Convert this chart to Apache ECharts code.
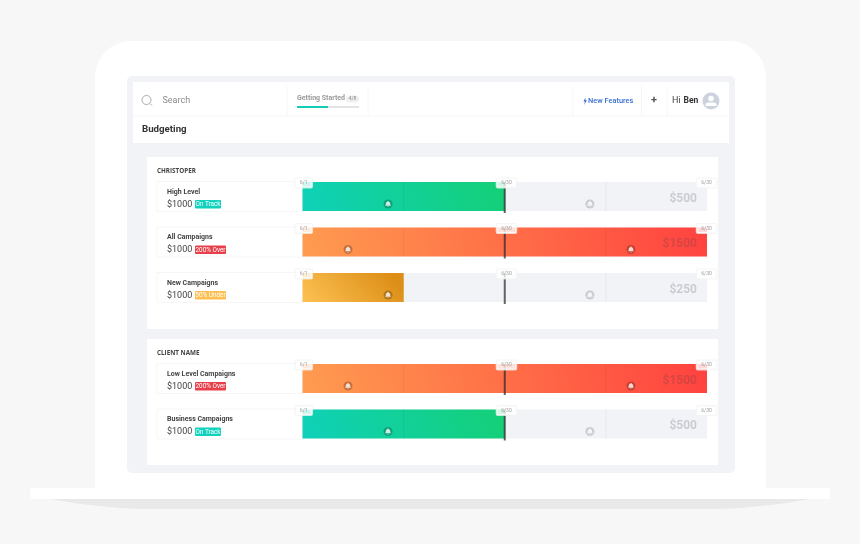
<!DOCTYPE html>
<html style="height: 100%">
<head>
<meta charset="utf-8">
<script src="https://cdn.jsdelivr.net/npm/echarts@6/dist/echarts.min.js"></script>
</head>
<body style="height: 100%; margin: 0; background: #f7f7f7">
<div id="container" style="width: 860px; height: 544px"></div>
<script>
// empty category keeps the gap between the two groups
var categories = ['High Level', 'All Campaigns', 'New Campaigns', '', 'Low Level Campaigns', 'Business Campaigns'];
var budgets = ['$1000', '$1000', '$1000', '', '$1000', '$1000'];
var statuses = ['On Track', '200% Over', '50% Under', '', '200% Over', 'On Track'];
var spent = [1000, 2000, 500, null, 2000, 1000];
var trackMax = [2000, 2000, 2000, null, 2000, 2000];
var targets = [1000, 1000, 1000, null, 1000, 1000];
var remaining = ['$500', '$1500', '$250', '', '$1500', '$500'];
var bellsFirst = [423, 225, 423, null, 225, 423];
var bellsSecond = [1421, 1624, 1421, null, 1624, 1421];
var dividers = [500, 1500];
var dateStart = '6/1';
var dateEnd = '6/30';
var groupNames = ['CHRISTOPER', 'CLIENT NAME'];

var FONT = 'Roboto, sans-serif';
var HEAD_FONT = '"Open Sans", sans-serif';
var gridLeft = 302.5, gridWidth = 404.5, gridTop = 173.75, rowStep = 45.5;

var statusColor = {
	'On Track': ['#10d2bd', ['#0fd1b9', '#15cf6f']],
	'200% Over': ['#e8404a', ['#ff9c50', '#ff3f3f']],
	'50% Under': ['#fdbf52', ['#fdc253', '#dc8e16']]
};

// amber bar is short so its gradient runs at a steeper angle
function gradient(stops, steep) {
	var g = steep ? [0, 1, 0.6, -1] : [0, 1, 1, -2];
	return new echarts.graphic.LinearGradient(g[0], g[1], g[2], g[3], [
		{ offset: 0, color: stops[0] },
		{ offset: 1, color: stops[1] }
	]);
}

function rect(x, y, w, h, fill, r, z) {
	return { type: 'rect', z: z || 0, shape: { x: x, y: y, width: w, height: h, r: r || 0 }, style: { fill: fill }, silent: true };
}
function txt(x, y, text, size, color, weight, align, font) {
	return {
		type: 'text', z: 10, x: x, y: y, silent: true,
		style: { text: text, font: (weight || 'normal') + ' ' + size + 'px ' + (font || FONT), fill: color, align: align || 'left', verticalAlign: 'middle' }
	};
}
function vline(x, y1, y2, color) {
	return { type: 'line', z: 3, shape: { x1: x, y1: y1, x2: x, y2: y2 }, style: { stroke: color, lineWidth: 1 }, silent: true };
}

// laptop, screen and page chrome
var chrome = [
	rect(95, 41, 671, 450, '#ffffff', [36, 36, 0, 0]),
	{ type: 'polygon', z: 0, silent: true, style: { fill: '#e9e9e9' }, shape: { points: [[50, 499], [62, 501], [80, 504], [100, 506], [120, 508], [140, 509], [720, 509], [740, 508], [760, 506], [780, 504], [798, 501], [810, 499]] } },
	rect(30.5, 488, 799.5, 11, '#ffffff'),
	rect(127, 76, 608, 397, '#f1f3f7', 5),
	rect(133, 82, 596, 61, '#ffffff'),
	rect(147, 157, 571, 172, '#ffffff'),
	rect(147, 339, 571, 126, '#ffffff'),
	{ type: 'line', z: 3, silent: true, shape: { x1: 133, y1: 116, x2: 729, y2: 116 }, style: { stroke: '#f6f6f7' } },
	vline(287, 86, 116, '#f6f6f7'), vline(368, 86, 116, '#f6f6f7'), vline(573, 86, 116, '#f6f6f7'),
	vline(641.5, 86, 116, '#f6f6f7'), vline(667, 86, 116, '#f6f6f7'),
	{ type: 'circle', z: 5, silent: true, shape: { cx: 146.5, cy: 100, r: 4.5 }, style: { fill: 'none', stroke: '#a9acb0', lineWidth: 1 } },
	{ type: 'line', z: 5, silent: true, shape: { x1: 150, y1: 103.5, x2: 152, y2: 105.5 }, style: { stroke: '#a9acb0', lineWidth: 1 } },
	txt(162.5, 101, 'Search', 9, '#8b8b8b'),
	txt(297, 98.5, 'Getting Started', 7, '#9a9a9a', 'bold'),
	rect(346, 95.5, 13, 7, '#f0f0f0', 3.5, 5),
	txt(352.5, 99, '4/8', 5, '#888888', 'normal', 'center'),
	rect(297, 106, 62, 2, '#e4e4e4', 0, 5),
	rect(297, 106, 31, 2, '#14cdb6', 0, 6),
	{ type: 'polygon', z: 5, silent: true, style: { fill: '#2f66d0' }, shape: { points: [[585.5, 97.5], [583.5, 101.5], [585, 101.5], [584.2, 105], [586.8, 100.2], [585.3, 100.2]] } },
	txt(588, 101.5, 'New Features', 7.4, '#3a6fd2', '500'),
	txt(654, 100.5, '+', 11, '#555555', 'bold', 'center'),
	txt(672, 101, 'Hi', 9, '#444444'),
	txt(683.5, 101, 'Ben', 8.5, '#333333', 'bold'),
	{ type: 'circle', z: 5, silent: true, shape: { cx: 711, cy: 101, r: 8.5 }, style: { fill: '#ccd3de' } },
	{ type: 'circle', z: 6, silent: true, shape: { cx: 711, cy: 98.5, r: 2.8 }, style: { fill: '#ffffff' } },
	rect(705.5, 102.5, 11, 3.5, '#ffffff', [3, 3, 1, 1], 6),
	txt(142, 130, 'Budgeting', 9.7, '#333333', 'bold'),
	txt(157, 171.5, groupNames[0], 6.3, '#444444', 'bold', 'left', HEAD_FONT),
	txt(157, 353.5, groupNames[1], 6.3, '#444444', 'bold', 'left', HEAD_FONT)
];

// left hand cards, one for each row
categories.forEach(function (name, i) {
	if (!name) return;
	var top = 182 + rowStep * i;
	var badgeW = statuses[i] === 'On Track' ? 26 : 31;
	chrome.push(
		{ type: 'rect', z: 1, silent: true, shape: { x: 157, y: top - 0.5, width: 146, height: 30 }, style: { fill: '#ffffff', stroke: '#f6f6f6', lineWidth: 1 } },
		txt(167, top + 10, name, 7, '#444444', 'bold'),
		txt(167, top + 22.5, budgets[i], 9, '#444444'),
		rect(195, top + 18, badgeW, 8.5, statusColor[statuses[i]][0], 1, 5),
		txt(195 + badgeW / 2, top + 22.5, statuses[i], 6.4, '#ffffff', 'normal', 'center')
	);
});

var myChart = echarts.init(document.getElementById('container'));

function fillData() {
	return spent.map(function (v, i) {
		if (v === null) return null;
		return { value: v, itemStyle: { color: gradient(statusColor[statuses[i]][1], statuses[i] === '50% Under') } };
	});
}

function bellSeries(values) {
	return values.map(function (v, i) {
		if (v === null) return null;
		return { value: [v, i], itemStyle: { color: v < spent[i] ? 'rgba(0,0,0,0.28)' : '#bfc2c8' } };
	});
}

var bellPoints = bellSeries(bellsFirst).concat(bellSeries(bellsSecond)).filter(Boolean);
var bellPath = 'path://M12 2a2 2 0 0 0-2 2v1a6 6 0 0 0-4 6v5l-2 2v1h16v-1l-2-2v-5a6 6 0 0 0-4-6V4a2 2 0 0 0-2-2zM10 21a2 2 0 0 0 4 0z';

var tickData = [];
categories.forEach(function (name, i) {
	if (!name) return;
	dividers.forEach(function (d) { tickData.push([d, i, 0]); });
	tickData.push([targets[i], i, 1]);
});

function renderTick(params, api) {
	var p = api.coord([api.value(0), api.value(1)]);
	var half = 14.5;
	if (api.value(2) === 1) {
		return { type: 'line', shape: { x1: p[0], y1: p[1] - half, x2: p[0], y2: p[1] + half + 2 }, style: { stroke: 'rgba(40,40,40,0.72)', lineWidth: 2 } };
	}
	return { type: 'line', shape: { x1: p[0], y1: p[1] - half, x2: p[0], y2: p[1] + half }, style: { stroke: 'rgba(0,0,0,0.05)', lineWidth: 1 } };
}

function dateSeries(x, text, dx) {
	var pts = [];
	categories.forEach(function (name, i) { if (name) pts.push([x, i]); });
	return {
		type: 'scatter', z: 8, symbolSize: 0, data: pts, silent: true,
		label: {
			show: true, position: 'inside', offset: [dx, -13.5], formatter: text,
			fontFamily: FONT, fontSize: 5, color: '#888888', backgroundColor: '#ffffff',
			borderColor: '#f3f3f3', borderWidth: 1, borderRadius: 1, padding: [2, 4.5]
		}
	};
}

var option = {
	backgroundColor: '#f7f7f7',
	animation: false,
	graphic: { elements: chrome },
	grid: { left: gridLeft, top: gridTop, width: gridWidth, height: rowStep * 6 },
	xAxis: { type: 'value', min: 0, max: 2000, interval: 500, show: false },
	yAxis: { type: 'category', inverse: true, data: categories, show: false },
	series: [
		{ type: 'bar', z: 2, barWidth: 29, barGap: '-100%', silent: true, data: trackMax, itemStyle: { color: '#f1f3f7' } },
		{ type: 'bar', z: 3, barWidth: 29, barGap: '-100%', silent: true, data: fillData() },
		{ type: 'custom', z: 4, silent: true, renderItem: renderTick, data: tickData, encode: { x: 0, y: 1 } },
		{ type: 'scatter', z: 5, silent: true, symbol: 'circle', symbolSize: 9, symbolOffset: [0, 7.5], data: bellPoints },
		{ type: 'scatter', z: 6, silent: true, symbol: bellPath, symbolSize: 6, symbolOffset: [0, 7.5], itemStyle: { color: '#ffffff' }, data: bellPoints.map(function (b) { return b.value; }) },
		{
			type: 'scatter', z: 6, symbolSize: 0, silent: true,
			data: remaining.map(function (r, i) { return r ? [2000, i] : null; }).filter(Boolean),
			label: {
				show: true, position: 'left', distance: 10, fontFamily: FONT, fontSize: 12, fontWeight: 'bold',
				formatter: function (p) { return remaining[p.value[1]]; },
				color: 'rgba(60,60,80,0.27)', offset: [0, 2]
			}
		},
		dateSeries(0, dateStart, 1.2),
		dateSeries(1000, dateEnd, 1.7),
		dateSeries(2000, dateEnd, -0.5)
	]
};
myChart.setOption(option);
</script>
</body>
</html>
